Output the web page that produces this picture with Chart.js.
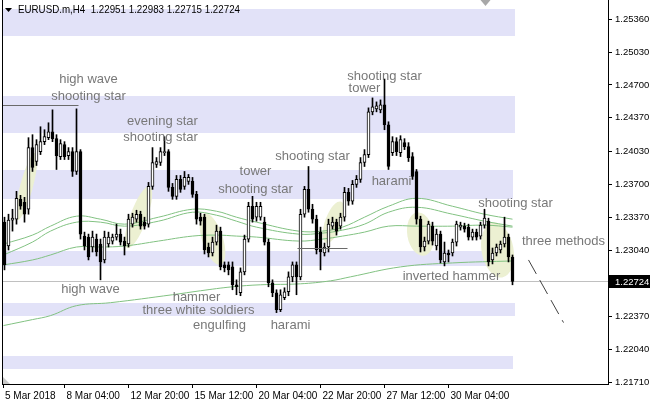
<!DOCTYPE html>
<html>
<head>
<meta charset="utf-8">
<script src="https://cdn.jsdelivr.net/npm/chart.js@4.4.1/dist/chart.umd.min.js"></script>
<style>
  html, body { margin: 0; padding: 0; background: #fff; }
  #wrap { width: 650px; height: 406px; }
</style>
</head>
<body>
<div id="wrap"><canvas id="chart" width="650" height="406"></canvas></div>
<script>
// EURUSD.m H4 candles
const opens = [
  1.2332, 1.2308, 1.2334, 1.2335, 1.2355, 1.2352, 1.2345, 1.2407, 1.2393, 1.2403,
  1.2413, 1.2417, 1.2423, 1.2416, 1.2398, 1.2410, 1.2399, 1.2403, 1.2383, 1.2403,
  1.2318, 1.2317, 1.2307, 1.2315, 1.2310, 1.2294, 1.2310, 1.2313, 1.2317, 1.2320,
  1.2313, 1.2310, 1.2330, 1.2335, 1.2340, 1.2332, 1.2330, 1.2368, 1.2390, 1.2392,
  1.2402, 1.2403, 1.2367, 1.2358, 1.2375, 1.2368, 1.2373, 1.2373, 1.2360, 1.2337,
  1.2337, 1.2307, 1.2301, 1.2312, 1.2323, 1.2289, 1.2289, 1.2287, 1.2269, 1.2261,
  1.2282, 1.2315, 1.2348, 1.2337, 1.2337, 1.2332, 1.2312, 1.2271, 1.2261, 1.2244,
  1.2256, 1.2262, 1.2277, 1.2289, 1.2277, 1.2340, 1.2365, 1.2345, 1.2335, 1.2322,
  1.2301, 1.2307, 1.2328, 1.2332, 1.2328, 1.2337, 1.2362, 1.2353, 1.2370, 1.2375,
  1.2392, 1.2400, 1.2443, 1.2446, 1.2445, 1.2450, 1.2430, 1.2402, 1.2413, 1.2402,
  1.2412, 1.2408, 1.2398, 1.2383, 1.2335, 1.2307, 1.2313, 1.2328, 1.2308, 1.2320,
  1.2292, 1.2301, 1.2301, 1.2312, 1.2327, 1.2328, 1.2327, 1.2317, 1.2322, 1.2318,
  1.2329, 1.2333, 1.2294, 1.2301, 1.2304, 1.2310, 1.2317, 1.2297
];
const highs = [
  1.2337, 1.2340, 1.2345, 1.2363, 1.2359, 1.2357, 1.2417, 1.2420, 1.2415, 1.2428,
  1.2425, 1.2432, 1.2445, 1.2420, 1.2415, 1.2413, 1.2407, 1.2407, 1.2446, 1.2405,
  1.2322, 1.2320, 1.2323, 1.2320, 1.2315, 1.2323, 1.2322, 1.2320, 1.2330, 1.2325,
  1.2317, 1.2340, 1.2341, 1.2344, 1.2343, 1.2337, 1.2372, 1.2407, 1.2397, 1.2407,
  1.2418, 1.2405, 1.2371, 1.2379, 1.2379, 1.2383, 1.2380, 1.2377, 1.2363, 1.2341,
  1.2340, 1.2311, 1.2317, 1.2329, 1.2327, 1.2292, 1.2292, 1.2292, 1.2274, 1.2286,
  1.2319, 1.2352, 1.2358, 1.2352, 1.2352, 1.2337, 1.2315, 1.2274, 1.2264, 1.2264,
  1.2266, 1.2282, 1.2292, 1.2292, 1.2345, 1.2368, 1.2388, 1.2350, 1.2339, 1.2327,
  1.2311, 1.2335, 1.2337, 1.2335, 1.2341, 1.2367, 1.2366, 1.2374, 1.2379, 1.2397,
  1.2405, 1.2447, 1.2457, 1.2453, 1.2455, 1.2476, 1.2433, 1.2418, 1.2417, 1.2419,
  1.2416, 1.2412, 1.2402, 1.2385, 1.2338, 1.2317, 1.2333, 1.2332, 1.2325, 1.2323,
  1.2312, 1.2304, 1.2315, 1.2333, 1.2332, 1.2331, 1.2330, 1.2325, 1.2325, 1.2332,
  1.2345, 1.2336, 1.2306, 1.2310, 1.2313, 1.2337, 1.2320, 1.2299
];
const lows = [
  1.2284, 1.2304, 1.2323, 1.2330, 1.2345, 1.2332, 1.2340, 1.2383, 1.2389, 1.2400,
  1.2410, 1.2415, 1.2413, 1.2385, 1.2395, 1.2395, 1.2395, 1.2378, 1.2380, 1.2315,
  1.2304, 1.2294, 1.2302, 1.2298, 1.2274, 1.2291, 1.2307, 1.2310, 1.2314, 1.2309,
  1.2299, 1.2307, 1.2327, 1.2332, 1.2325, 1.2325, 1.2327, 1.2365, 1.2387, 1.2389,
  1.2399, 1.2363, 1.2355, 1.2355, 1.2362, 1.2365, 1.2370, 1.2357, 1.2330, 1.2329,
  1.2300, 1.2297, 1.2298, 1.2309, 1.2284, 1.2282, 1.2279, 1.2264, 1.2259, 1.2258,
  1.2279, 1.2312, 1.2332, 1.2333, 1.2334, 1.2309, 1.2267, 1.2257, 1.2241, 1.2242,
  1.2254, 1.2258, 1.2272, 1.2259, 1.2274, 1.2337, 1.2342, 1.2331, 1.2300, 1.2284,
  1.2298, 1.2302, 1.2325, 1.2319, 1.2325, 1.2333, 1.2349, 1.2350, 1.2367, 1.2372,
  1.2388, 1.2397, 1.2440, 1.2443, 1.2442, 1.2425, 1.2385, 1.2399, 1.2399, 1.2398,
  1.2405, 1.2393, 1.2375, 1.2330, 1.2302, 1.2303, 1.2310, 1.2309, 1.2304, 1.2291,
  1.2288, 1.2292, 1.2298, 1.2308, 1.2324, 1.2322, 1.2314, 1.2314, 1.2314, 1.2315,
  1.2326, 1.2288, 1.2290, 1.2298, 1.2301, 1.2307, 1.2292, 1.2269
];
const closes = [
  1.2289, 1.2334, 1.2336, 1.2356, 1.2348, 1.2340, 1.2407, 1.2387, 1.2410, 1.2413,
  1.2418, 1.2423, 1.2416, 1.2399, 1.2411, 1.2398, 1.2403, 1.2383, 1.2403, 1.2320,
  1.2308, 1.2297, 1.2317, 1.2302, 1.2292, 1.2317, 1.2317, 1.2317, 1.2320, 1.2312,
  1.2308, 1.2335, 1.2337, 1.2340, 1.2328, 1.2328, 1.2368, 1.2392, 1.2393, 1.2403,
  1.2403, 1.2367, 1.2358, 1.2375, 1.2365, 1.2377, 1.2377, 1.2360, 1.2335, 1.2333,
  1.2304, 1.2301, 1.2312, 1.2323, 1.2287, 1.2286, 1.2284, 1.2269, 1.2267, 1.2282,
  1.2315, 1.2348, 1.2335, 1.2348, 1.2348, 1.2312, 1.2271, 1.2261, 1.2244, 1.2259,
  1.2262, 1.2277, 1.2289, 1.2277, 1.2340, 1.2365, 1.2345, 1.2335, 1.2304, 1.2302,
  1.2307, 1.2330, 1.2332, 1.2323, 1.2337, 1.2362, 1.2353, 1.2370, 1.2375, 1.2392,
  1.2400, 1.2443, 1.2448, 1.2449, 1.2450, 1.2430, 1.2388, 1.2413, 1.2403, 1.2415,
  1.2408, 1.2397, 1.2378, 1.2335, 1.2307, 1.2313, 1.2330, 1.2313, 1.2320, 1.2294,
  1.2301, 1.2299, 1.2312, 1.2330, 1.2329, 1.2325, 1.2317, 1.2322, 1.2317, 1.2329,
  1.2336, 1.2292, 1.2301, 1.2307, 1.2310, 1.2317, 1.2297, 1.22724
];
const lastPrice = 1.22724;

// moving averages, sampled at a few bars
const maIdx   = [-0.25, 7, 11.5, 18, 24, 30, 38.5, 47, 53, 58, 63, 73.5, 79.5, 84.5, 90, 96, 103, 112, 120, 127];
const maFast  = [1.2310, 1.2319, 1.2328, 1.2338, 1.2335, 1.2330, 1.2337, 1.2345, 1.2343, 1.2337, 1.2332, 1.2323, 1.2323, 1.2327, 1.2337, 1.2348, 1.2356, 1.2348, 1.2340, 1.2335];
const maMid   = [1.2299, 1.2312, 1.2323, 1.2332, 1.2332, 1.2328, 1.2333, 1.2342, 1.2339, 1.2333, 1.2327, 1.2320, 1.2321, 1.2324, 1.2330, 1.2342, 1.2347, 1.2340, 1.2333, 1.2328];
const maSlow  = [1.2289, 1.2294, 1.2299, 1.2307, 1.2307, 1.2308, 1.2313, 1.2318, 1.2319, 1.2318, 1.2317, 1.2313, 1.2315, 1.2318, 1.2322, 1.2328, 1.2328, 1.2328, 1.2329, 1.2327];
const longIdx = [-0.25, 7, 11.5, 18, 26.5, 42, 49, 57, 64, 74, 81.5, 86.5, 99, 112, 127];
const maLong  = [1.2228, 1.2234, 1.2238, 1.2248, 1.2251, 1.2259, 1.2263, 1.2267, 1.2269, 1.2270, 1.2273, 1.2277, 1.2287, 1.2291, 1.2293];

// axis labels
const xTickIdx  = [-0.375, 15, 31, 47, 63, 79, 95, 111];
const xTickText = ['5 Mar 2018', '8 Mar 04:00', '12 Mar 20:00', '15 Mar 12:00', '20 Mar 04:00', '22 Mar 20:00', '27 Mar 12:00', '30 Mar 04:00'];
const yTicks = [1.25360, 1.25030, 1.24700, 1.24370, 1.24030, 1.23700, 1.23370, 1.23040, 1.22370, 1.22040, 1.21710];

// support / resistance zones
const bandLow  = [1.2519, 1.2422, 1.2355, 1.2288, 1.2238, 1.2184];
const bandHigh = [1.2546, 1.2459, 1.2384, 1.2303, 1.2251, 1.2197];
const bandEnd  = [127.5, 127.5, 127, 127, 127.5, 127];

// highlighted patterns
const zoneIdx   = [5.5, 33.5, 52, 82.25, 104, 123.25];
const zonePrice = [1.2368, 1.2337, 1.2315, 1.2332, 1.2320, 1.2304];
const zoneBars  = [1.6, 2.1, 2.6, 2.1, 3.3, 4];
const zoneRange = [0.0035, 0.0033, 0.0027, 0.0022, 0.0022, 0.0028];
const zoneTilt  = [15, 20, -18, 20, -10, -10];

// pattern names
const noteText  = ['high wave', 'shooting star', 'evening star', 'shooting star', 'tower', 'shooting star',
                   'shooting star', 'shooting star', 'tower', 'harami', 'shooting star', 'three methods',
                   'inverted hammer', 'high wave', 'hammer', 'three white soldiers', 'engulfing', 'harami'];
const noteIdx   = [21, 21, 39.5, 39, 62.75, 62.75, 77, 95, 90, 96.75, 127.75, 139.75, 111.75, 21.5, 48, 48.5, 53.75, 71.5];
const notePrice = [1.2476, 1.2459, 1.2433, 1.2417, 1.2383, 1.2365, 1.2398, 1.2479, 1.2467, 1.2373, 1.2351, 1.2313,
                   1.2277, 1.2264, 1.2256, 1.2243, 1.2228, 1.2228];

const hLinePrice = [1.2450, 1.2306];
const hLineFrom  = [-0.375, 73.25];
const hLineTo    = [18.5, 85.75];
const dashFrom = [131, 1.2294];
const dashTo   = [139.75, 1.2231];

const bodies = opens.map((o, i) => ({x: i, y: [o, closes[i]]}));
const wicks = lows.map((l, i) => ({x: i, y: [l, highs[i]]}));
const bodyColors = opens.map((o, i) => closes[i] >= o ? '#ffffff' : '#000000');
const toPts = (ix, vals) => ix.map((v, k) => ({x: v, y: vals[k]}));

const marks = {
  id: 'marks',
  beforeDatasetsDraw(chart) {
    const {ctx, chartArea: a, scales: {x, y}} = chart;
    ctx.save();
    ctx.beginPath();
    ctx.rect(a.left, a.top, a.right - a.left, a.bottom - a.top);
    ctx.clip();
    ctx.fillStyle = '#E2E2F8';
    for (let k = 0; k < bandLow.length; k++) {
      const t = Math.round(y.getPixelForValue(bandHigh[k]));
      const b = Math.round(y.getPixelForValue(bandLow[k]));
      ctx.fillRect(a.left, t, Math.round(x.getPixelForValue(bandEnd[k])) - a.left, b - t);
    }
    ctx.fillStyle = '#ECF0D2';
    for (let k = 0; k < zoneIdx.length; k++) {
      const cx = x.getPixelForValue(zoneIdx[k]);
      const cy = y.getPixelForValue(zonePrice[k]);
      const rx = x.getPixelForValue(zoneIdx[k] + zoneBars[k]) - cx;
      const ry = cy - y.getPixelForValue(zonePrice[k] + zoneRange[k]);
      ctx.beginPath();
      ctx.ellipse(cx, cy, rx, ry, zoneTilt[k] * Math.PI / 180, 0, Math.PI * 2);
      ctx.fill();
    }
    const by = Math.round(y.getPixelForValue(lastPrice)) + 0.5;
    ctx.strokeStyle = '#C0C0C0';
    ctx.lineWidth = 1;
    ctx.beginPath();
    ctx.moveTo(a.left, by);
    ctx.lineTo(a.right, by);
    ctx.stroke();
    ctx.restore();
  },
  afterDatasetsDraw(chart) {
    const {ctx, scales: {x, y}} = chart;
    ctx.save();
    ctx.strokeStyle = '#6A6A6A';
    ctx.lineWidth = 1;
    for (let k = 0; k < hLinePrice.length; k++) {
      const py = Math.round(y.getPixelForValue(hLinePrice[k])) + 0.5;
      ctx.beginPath();
      ctx.moveTo(x.getPixelForValue(hLineFrom[k]), py);
      ctx.lineTo(x.getPixelForValue(hLineTo[k]), py);
      ctx.stroke();
    }
    ctx.strokeStyle = '#404040';
    ctx.setLineDash([16, 7]);
    ctx.beginPath();
    ctx.moveTo(x.getPixelForValue(dashFrom[0]), y.getPixelForValue(dashFrom[1]));
    ctx.lineTo(x.getPixelForValue(dashTo[0]), y.getPixelForValue(dashTo[1]));
    ctx.stroke();
    ctx.setLineDash([]);
    ctx.fillStyle = '#787878';
    ctx.font = '13px "Liberation Sans", Arial, sans-serif';
    ctx.textAlign = 'center';
    ctx.textBaseline = 'middle';
    noteText.forEach((t, k) => {
      ctx.fillText(t, x.getPixelForValue(noteIdx[k]), y.getPixelForValue(notePrice[k]));
    });
    ctx.restore();
  },
  afterDraw(chart) {
    const {ctx, chartArea: a, scales: {x, y}} = chart;
    ctx.save();
    // left frame
    ctx.fillStyle = '#000';
    ctx.fillRect(a.left - 1, a.top, 1, a.bottom - a.top + 1);
    // title
    ctx.beginPath();
    ctx.moveTo(5, 8); ctx.lineTo(12, 8); ctx.lineTo(8.5, 12); ctx.closePath();
    ctx.fill();
    ctx.font = '11.5px "Liberation Sans", Arial, sans-serif';
    ctx.textBaseline = 'middle';
    ctx.textAlign = 'left';
    ctx.fillText('EURUSD.m,H4  1.22951 1.22983 1.22715 1.22724', 18, 10, 222);
    // shift marker and corner marker
    ctx.fillStyle = '#A8A8A8';
    const sx = x.getPixelForValue(120.25);
    ctx.beginPath();
    ctx.moveTo(sx - 5, a.top); ctx.lineTo(sx + 5, a.top); ctx.lineTo(sx, a.top + 6); ctx.closePath();
    ctx.fill();
    ctx.fillStyle = '#C8C8C8';
    ctx.beginPath();
    ctx.moveTo(a.left, a.bottom - 7); ctx.lineTo(a.left, a.bottom); ctx.lineTo(a.left + 7, a.bottom); ctx.closePath();
    ctx.fill();
    // last price box
    const py = Math.round(y.getPixelForValue(lastPrice));
    ctx.fillStyle = '#000';
    ctx.fillRect(a.right + 1, py - 6, 650 - a.right - 1, 13);
    ctx.fillStyle = '#fff';
    ctx.font = '9.5px "Liberation Sans", Arial, sans-serif';
    ctx.fillText(lastPrice.toFixed(5), a.right + 7, py + 1);
    ctx.restore();
  }
};

new Chart(document.getElementById('chart'), {
  type: 'bar',
  data: {
    datasets: [
      {
        data: bodies, order: 0, grouped: false, barThickness: 3, minBarLength: 1,
        backgroundColor: bodyColors, borderColor: '#000', borderWidth: 1, borderSkipped: false
      },
      {
        data: wicks, order: 1, grouped: false, barThickness: 1,
        backgroundColor: '#000', borderWidth: 0
      },
      {type: 'line', data: toPts(maIdx, maFast), order: 2, borderColor: '#82C282', borderWidth: 1, pointRadius: 0, tension: 0.4},
      {type: 'line', data: toPts(maIdx, maMid), order: 2, borderColor: '#82C282', borderWidth: 1, pointRadius: 0, tension: 0.4},
      {type: 'line', data: toPts(maIdx, maSlow), order: 2, borderColor: '#82C282', borderWidth: 1, pointRadius: 0, tension: 0.4},
      {type: 'line', data: toPts(longIdx, maLong), order: 2, borderColor: '#82C282', borderWidth: 1, pointRadius: 0, tension: 0.4}
    ]
  },
  options: {
    responsive: false,
    animation: false,
    devicePixelRatio: 1,
    layout: {padding: {left: 3, top: 0, right: 0, bottom: 0}},
    plugins: {legend: {display: false}, tooltip: {enabled: false}},
    scales: {
      x: {
        type: 'linear', min: -0.375, max: 150.875, offset: false,
        afterBuildTicks: s => { s.ticks = xTickIdx.map(v => ({value: v})); },
        afterFit: s => { s.height = 22; s.paddingLeft = 0; s.paddingRight = 0; },
        ticks: {
          autoSkip: false, maxRotation: 0, align: 'start', labelOffset: 2, padding: 2,
          color: '#000', font: {family: '"Liberation Sans", Arial, sans-serif', size: 10},
          callback: v => xTickText[xTickIdx.indexOf(v)]
        },
        grid: {drawOnChartArea: false, offset: false, tickLength: 4, color: '#000'},
        border: {display: true, color: '#000'}
      },
      y: {
        position: 'right', min: 1.21692, max: 1.25555, beginAtZero: false,
        afterBuildTicks: s => { s.ticks = yTicks.map(v => ({value: v})); },
        afterFit: s => { s.width = 42; s.paddingTop = 0; s.paddingBottom = 0; },
        ticks: {
          color: '#000', padding: 3, callback: v => v.toFixed(5),
          font: {family: '"Liberation Sans", Arial, sans-serif', size: 9.5}
        },
        grid: {drawOnChartArea: false, tickLength: 4, color: '#000'},
        border: {display: true, color: '#000'}
      }
    }
  },
  plugins: [marks]
});
</script>
</body>
</html>
